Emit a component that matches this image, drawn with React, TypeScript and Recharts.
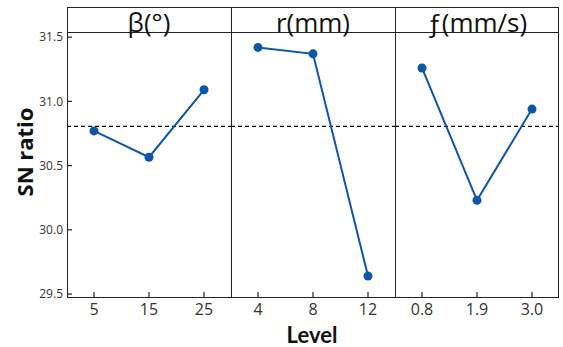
import { LineChart, Line, XAxis, YAxis, ReferenceLine } from 'recharts';

const betaLevels = ['5', '15', '25'];
const betaSN = [30.77, 30.565, 31.09];
const rLevels = ['4', '8', '12'];
const rSN = [31.42, 31.37, 29.64];
const fLevels = ['0.8', '1.9', '3.0'];
const fSN = [31.26, 30.23, 30.94];
const yTicks = [29.5, 30.0, 30.5, 31.0, 31.5];
const meanSN = 30.805;

const panelTitles = ['β(°)', 'r(mm)', 'ƒ(mm/s)'];

const LINE = '#0b56a8';
const INK = '#222';
const FONT = '"Open Sans", "Noto Sans", sans-serif';
const Y_DOMAIN: [number, number] = [29.477, 31.54];

const XTick = ({ x, y, payload }: any) => (
  <g>
    <line x1={x} x2={x} y1={y - 7} y2={y - 12} stroke={INK} strokeWidth={1.2} />
    <text x={x} y={y} dy="0.71em" textAnchor="middle" fontSize={16} fill="#333" fontFamily={FONT}>
      {payload.value}
    </text>
  </g>
);

const YTick = ({ x, y, payload }: any) => (
  <g>
    <line x1={x + 4} x2={x + 9} y1={y} y2={y} stroke={INK} strokeWidth={1.2} />
    <text x={x} y={y} dy="0.35em" textAnchor="end" fontSize={12} fill="#333" fontFamily={FONT}>
      {payload.value.toFixed(1)}
    </text>
  </g>
);

function Panel({ levels, values, left, width, withY }: any) {
  const data = levels.map((lv: string, i: number) => ({ level: lv, sn: values[i] }));
  return (
    <div style={{ position: 'absolute', left, top: 0 }}>
      <LineChart width={width} height={347} data={data} margin={{ top: 32, right: 0, bottom: 20, left: 0 }}>
        <XAxis
          dataKey="level"
          height={30}
          axisLine={false}
          tickLine={false}
          tickSize={0}
          tickMargin={7}
          padding={{ left: 27, right: 27 }}
          tick={<XTick />}
          interval={0}
        />
        <YAxis
          domain={Y_DOMAIN}
          ticks={yTicks}
          width={withY ? 67 : 0}
          hide={!withY}
          axisLine={false}
          tickLine={false}
          tickSize={0}
          tickMargin={4}
          tick={<YTick />}
          allowDataOverflow
        />
        <ReferenceLine y={meanSN} stroke="#000" strokeDasharray="4 3" strokeWidth={1.2} />
        <Line
          type="linear"
          dataKey="sn"
          stroke={LINE}
          strokeWidth={2}
          dot={{ r: 4.5, fill: LINE, stroke: LINE, strokeWidth: 0 }}
          isAnimationActive={false}
        />
      </LineChart>
    </div>
  );
}

export default function App() {
  const panelLefts = [67, 231, 395];
  return (
    <div style={{ position: 'absolute', left: 0, top: 0, width: 563, height: 347, background: '#fff', fontFamily: FONT }}>
      <Panel levels={betaLevels} values={betaSN} left={0} width={231} withY />
      <Panel levels={rLevels} values={rSN} left={231} width={164} />
      <Panel levels={fLevels} values={fSN} left={395} width={164} />
      {panelLefts.map((l, i) => (
        <div
          key={i}
          style={{
            position: 'absolute',
            left: l,
            top: 7,
            width: 164,
            height: 291,
            boxSizing: 'border-box',
            borderLeft: `1.3px solid ${INK}`,
            borderTop: `1.3px solid ${INK}`,
            borderBottom: `1.3px solid ${INK}`,
            borderRight: i === 2 ? `1.3px solid ${INK}` : 'none',
            pointerEvents: 'none',
          }}
        >
          <div style={{ height: 25, borderBottom: `1.3px solid ${INK}`, boxSizing: 'border-box' }} />
        </div>
      ))}
      {panelLefts.map((l, i) => (
        <div
          key={'t' + i}
          style={{
            position: 'absolute',
            left: l,
            top: 9,
            width: 164,
            textAlign: 'center',
            fontSize: 26,
            lineHeight: '26px',
            color: '#111',
            whiteSpace: 'nowrap',
          }}
        >
          {panelTitles[i]}
        </div>
      ))}
      <div
        style={{
          position: 'absolute',
          left: 24,
          top: 152,
          transform: 'translate(-50%, -50%) rotate(-90deg)',
          fontSize: 22,
          lineHeight: '22px',
          fontWeight: 700,
          color: '#111',
          whiteSpace: 'nowrap',
        }}
      >
        SN ratio
      </div>
      <div
        style={{
          position: 'absolute',
          left: 312,
          top: 320.5,
          transform: 'translateX(-50%)',
          fontFamily: 'Lato, "Open Sans", sans-serif',
          fontSize: 22,
          lineHeight: 'normal',
          fontWeight: 700,
          color: '#111',
          whiteSpace: 'nowrap',
        }}
      >
        Level
      </div>
    </div>
  );
}
